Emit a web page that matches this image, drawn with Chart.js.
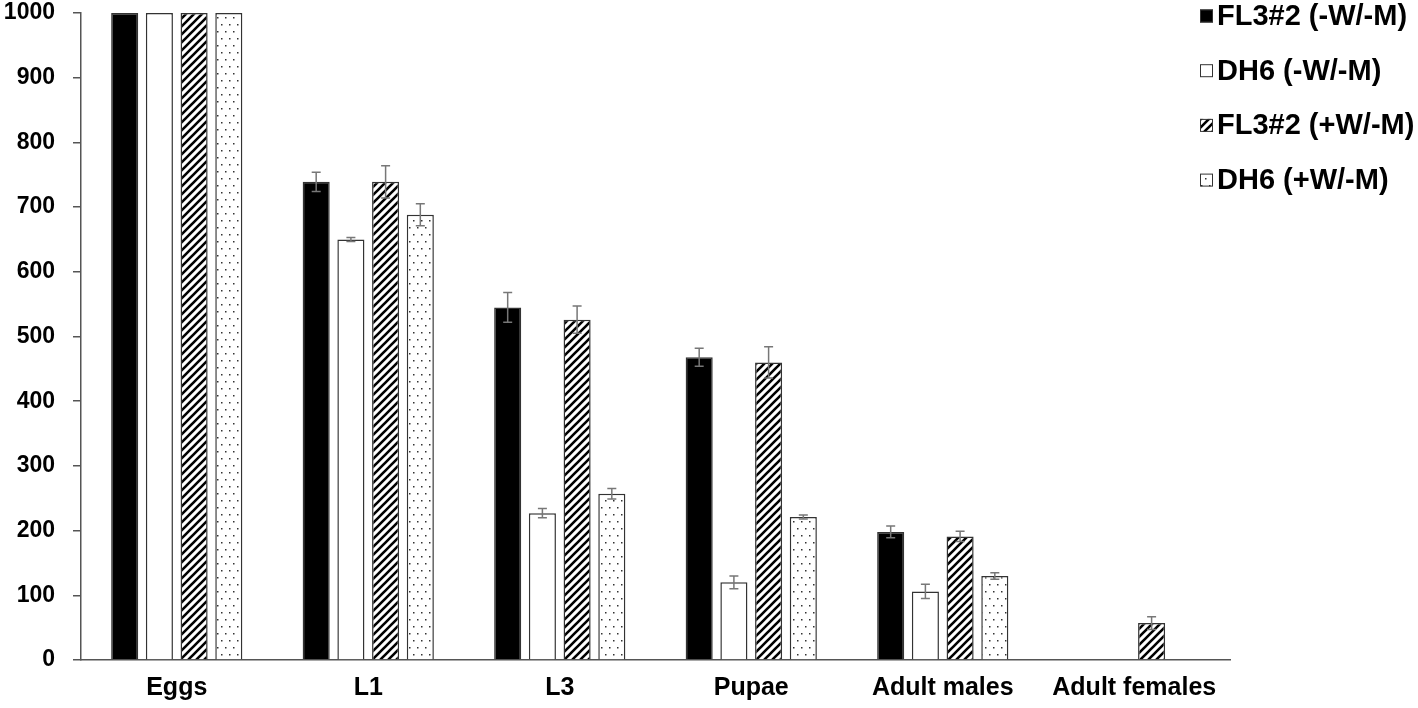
<!DOCTYPE html>
<html>
<head>
<meta charset="utf-8">
<script src="https://cdn.jsdelivr.net/npm/chart.js@4.4.1/dist/chart.umd.min.js"></script>
<style>
  html, body { margin: 0; padding: 0; background: #fff; }
  #wrap { width: 1418px; height: 708px; }
</style>
</head>
<body>
<div id="wrap"><canvas id="stages" width="1418" height="708"></canvas></div>
<script>
// ===== data =====
const stages = ["Eggs", "L1", "L3", "Pupae", "Adult males", "Adult females"];
const seriesNames = ["FL3#2 (-W/-M)", "DH6 (-W/-M)", "FL3#2 (+W/-M)", "DH6 (+W/-M)"];

const fl3NoW = [1000, 739, 545, 468, 198, null];
const dh6NoW = [1000, 650, 227, 120, 106, null];
const fl3W   = [1000, 739, 526, 460, 191, 57];
const dh6W   = [1000, 688, 257, 221, 130, null];

const fl3NoWErr = [0, 15, 23, 14, 9, 0];
const dh6NoWErr = [0, 3, 7, 10, 11, 0];
const fl3WErr   = [0, 25, 21, 24, 8, 10];
const dh6WErr   = [0, 17, 8, 3, 5, 0];

const yTicks = [0, 100, 200, 300, 400, 500, 600, 700, 800, 900, 1000];

const FONT = "'Liberation Sans', Arial, Helvetica, sans-serif";

const canvas = document.getElementById("stages");
const ctx = canvas.getContext("2d");

// diagonal hatch "/"
function makeHatch() {
  const c = document.createElement("canvas");
  c.width = 8; c.height = 8;
  const g = c.getContext("2d");
  g.fillStyle = "#fff";
  g.fillRect(0, 0, 8, 8);
  g.strokeStyle = "#000";
  g.lineWidth = 2.6;
  g.beginPath();
  g.moveTo(-2, 10); g.lineTo(10, -2);
  g.moveTo(-2, 2); g.lineTo(2, -2);
  g.moveTo(6, 10); g.lineTo(10, 6);
  g.stroke();
  return ctx.createPattern(c, "repeat");
}

// sparse staggered dots
function makeDots() {
  const c = document.createElement("canvas");
  c.width = 8; c.height = 14;
  const g = c.getContext("2d");
  g.fillStyle = "#fff";
  g.fillRect(0, 0, 8, 14);
  g.fillStyle = "#333";
  g.fillRect(1, 3, 1.5, 1.5);
  g.fillRect(5, 10, 1.5, 1.5);
  return ctx.createPattern(c, "repeat");
}

const fills = ["#000", "#fff", makeHatch(), makeDots()];
const values = [fl3NoW, dh6NoW, fl3W, dh6W];
const errors = [fl3NoWErr, dh6NoWErr, fl3WErr, dh6WErr];

// error bars drawn through the y scale
const errorBars = {
  id: "errorBars",
  afterDatasetsDraw(chart) {
    const y = chart.scales.y;
    const c = chart.ctx;
    c.save();
    c.strokeStyle = "#777";
    c.lineWidth = 1.5;
    chart.data.datasets.forEach((ds, i) => {
      const meta = chart.getDatasetMeta(i);
      meta.data.forEach((bar, j) => {
        const v = ds.data[j];
        const e = ds.errors[j];
        if (v == null || !e) return;
        const top = y.getPixelForValue(v + e);
        const bot = y.getPixelForValue(v - e);
        c.beginPath();
        c.moveTo(bar.x, top); c.lineTo(bar.x, bot);
        c.moveTo(bar.x - 4.5, top); c.lineTo(bar.x + 4.5, top);
        c.moveTo(bar.x - 4.5, bot); c.lineTo(bar.x + 4.5, bot);
        c.stroke();
      });
    });
    c.restore();
  }
};

// legend at the top right, over the end of the plot
const sideLegend = {
  id: "sideLegend",
  afterDraw(chart) {
    const c = chart.ctx;
    c.save();
    c.font = "bold 29px " + FONT;
    c.textBaseline = "middle";
    chart.data.datasets.forEach((ds, i) => {
      const cy = 16 + i * 54.7;
      c.fillStyle = ds.backgroundColor;
      c.fillRect(1200, cy - 6.5, 13, 13);
      c.strokeStyle = "#333";
      c.lineWidth = 1;
      c.strokeRect(1200.5, cy - 6, 12, 12);
      c.fillStyle = "#000";
      c.fillText(ds.label, 1217, cy + 1);
    });
    c.restore();
  }
};

new Chart(canvas, {
  type: "bar",
  data: {
    labels: stages,
    datasets: seriesNames.map((name, i) => ({
      label: name,
      data: values[i],
      errors: errors[i],
      backgroundColor: fills[i],
      borderColor: "#333",
      borderWidth: 1.5,
      categoryPercentage: 0.725,
      barPercentage: 0.78
    }))
  },
  options: {
    responsive: false,
    animation: false,
    layout: { padding: { top: 13, right: 188, left: 0, bottom: 0 } },
    scales: {
      x: {
        grid: { display: false, drawTicks: false },
        border: { display: true, color: "#555", width: 1.5 },
        ticks: {
          color: "#000",
          padding: 13,
          maxRotation: 0,
          font: { family: FONT, size: 25, weight: "bold" }
        },
        afterFit(scale) { scale.height = 48; scale.paddingLeft = 0; scale.paddingRight = 0; }
      },
      y: {
        min: 0,
        max: 1000,
        afterBuildTicks(scale) { scale.ticks = yTicks.map(v => ({ value: v })); },
        grid: { drawOnChartArea: false, drawTicks: true, tickLength: 8, color: "#555", lineWidth: 1.5 },
        border: { display: true, color: "#555", width: 1.5 },
        ticks: {
          color: "#000",
          padding: 18,
          callback: v => String(v),
          font: { family: FONT, size: 23, weight: "bold" }
        },
        afterFit(scale) { scale.width = 81; scale.paddingTop = 0; scale.paddingBottom = 0; }
      }
    },
    plugins: {
      legend: { display: false },
      tooltip: { enabled: false }
    }
  },
  plugins: [errorBars, sideLegend]
});
</script>
</body>
</html>
